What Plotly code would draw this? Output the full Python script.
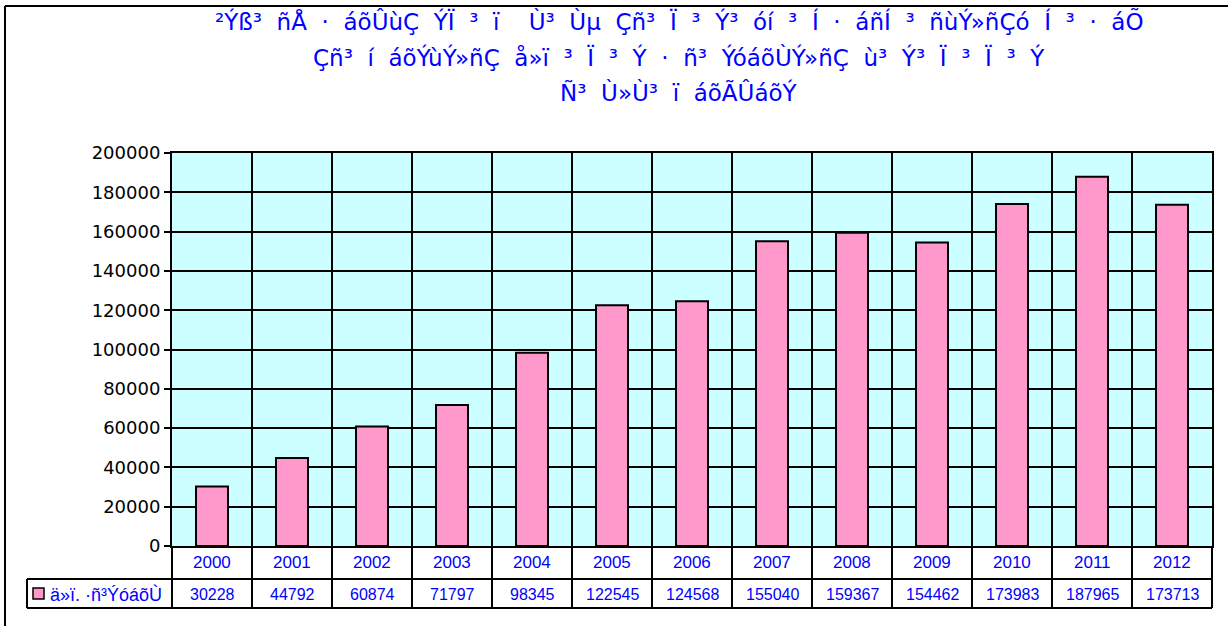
import plotly.graph_objects as go

# ---- data ----
years = ["2000", "2001", "2002", "2003", "2004", "2005", "2006",
         "2007", "2008", "2009", "2010", "2011", "2012"]
registrations = [30228, 44792, 60874, 71797, 98345, 122545, 124568,
                 155040, 159367, 154462, 173983, 187965, 173713]
series_name = "ä»ï. ·ñ³ÝóáõÙ"
title_chunks = [
    ["²Ýß³", "ñÅ", "·", "áõÛùÇ", "ÝÏ", "³", "ï", "", "Ù³", "Ùµ", "Çñ³", "Ï", "³",
     "Ý³", "óí", "³", "Í", "·", "áñÍ", "³", "ñùÝ»ñÇó", "Í", "³", "·", "áÕ"],
    ["Çñ³", "í", "áõÝùÝ»ñÇ", "å»ï", "³", "Ï", "³", "Ý", "·", "ñ³", "ÝóáõÙÝ»ñÇ",
     "ù³", "Ý³", "Ï", "³", "Ï", "³", "Ý"],
    ["Ñ³", "Ù»Ù³", "ï", "áõÃÛáõÝ"],
]
y_max = 200000
y_step = 20000

# ---- layout geometry (pixels) ----
W, H = 1228, 626
L, R, T, B = 172, 1212, 153, 546
pw, ph = R - L, B - T

def px(x):
    return (x - L) / pw

def py(y):
    return (B - y) / ph

BLUE = "#0000FF"
row1_bot = 579
row2_bot = 608
table_left = 27
GAP = "\u00a0\u00a0"

fig = go.Figure()
fig.add_trace(go.Bar(
    x=years, y=registrations, name=series_name, width=0.4,
    marker=dict(color="#FF99CC", line=dict(color="black", width=2)),
    showlegend=False, hoverinfo="skip",
))

shapes = []
annotations = []

# outer chart border (left & top visible)
shapes.append(dict(type="line", xref="paper", yref="paper",
                   x0=px(5), x1=px(W + 20), y0=py(6), y1=py(6),
                   line=dict(color="black", width=2)))
shapes.append(dict(type="line", xref="paper", yref="paper",
                   x0=px(5), x1=px(5), y0=py(6), y1=py(H + 20),
                   line=dict(color="black", width=2)))

# table lines
for yy in (row1_bot, row2_bot):
    shapes.append(dict(type="line", xref="paper", yref="paper",
                       x0=px(table_left), x1=px(R), y0=py(yy), y1=py(yy),
                       line=dict(color="black", width=2)))
shapes.append(dict(type="line", xref="paper", yref="paper",
                   x0=px(table_left), x1=px(table_left),
                   y0=py(row1_bot), y1=py(row2_bot),
                   line=dict(color="black", width=2)))
n = len(years)
for k in range(n + 1):
    xx = L + k * pw / n
    shapes.append(dict(type="line", xref="paper", yref="paper",
                       x0=px(xx), x1=px(xx), y0=py(B), y1=py(row2_bot),
                       line=dict(color="black", width=2)))

# legend key
shapes.append(dict(type="rect", xref="paper", yref="paper",
                   x0=px(33), x1=px(44), y0=py(588), y1=py(599),
                   fillcolor="#FF99CC", line=dict(color="black", width=1.5)))
annotations.append(dict(text=series_name, xref="paper", yref="paper",
                        x=px(48), y=py(594), xanchor="left", yanchor="middle",
                        showarrow=False,
                        font=dict(family="Liberation Sans", size=18, color=BLUE)))

for i, (yr, v) in enumerate(zip(years, registrations)):
    cx = L + (i + 0.5) * pw / n
    annotations.append(dict(text=yr, xref="paper", yref="paper",
                            x=px(cx), y=py(562), xanchor="center", yanchor="middle",
                            showarrow=False,
                            font=dict(family="Liberation Sans", size=17, color=BLUE)))
    annotations.append(dict(text=str(v), xref="paper", yref="paper",
                            x=px(cx), y=py(594), xanchor="center", yanchor="middle",
                            showarrow=False,
                            font=dict(family="Liberation Sans", size=16, color=BLUE)))

for chunks, yy in zip(title_chunks, (21, 57, 93)):
    annotations.append(dict(text=GAP.join(chunks), xref="paper", yref="paper",
                            x=px(679), y=py(yy), xanchor="center", yanchor="middle",
                            showarrow=False,
                            font=dict(family="DejaVu Sans", size=23, color=BLUE)))

fig.update_layout(
    width=W, height=H,
    margin=dict(l=L, r=W - R, t=T, b=H - B, pad=0),
    paper_bgcolor="white", plot_bgcolor="#CCFFFF",
    shapes=shapes, annotations=annotations,
)
fig.update_xaxes(type="category", tickson="boundaries", showgrid=True,
                 gridcolor="black", gridwidth=2, showticklabels=False,
                 ticks="", showline=True, linecolor="black", linewidth=2,
                 mirror=True)
fig.update_yaxes(range=[0, y_max], dtick=y_step, tick0=0, tickformat="d",
                 showgrid=True, gridcolor="black", gridwidth=2,
                 ticks="outside", ticklen=6, tickwidth=2, tickcolor="black",
                 showline=True, linecolor="black", linewidth=2, mirror=True,
                 tickfont=dict(family="DejaVu Sans", size=18, color="black"),
                 zeroline=False)

fig.write_html("out.html", config={"displayModeBar": False},
               post_script="document.body.style.margin='0';document.body.style.overflow='hidden';")
